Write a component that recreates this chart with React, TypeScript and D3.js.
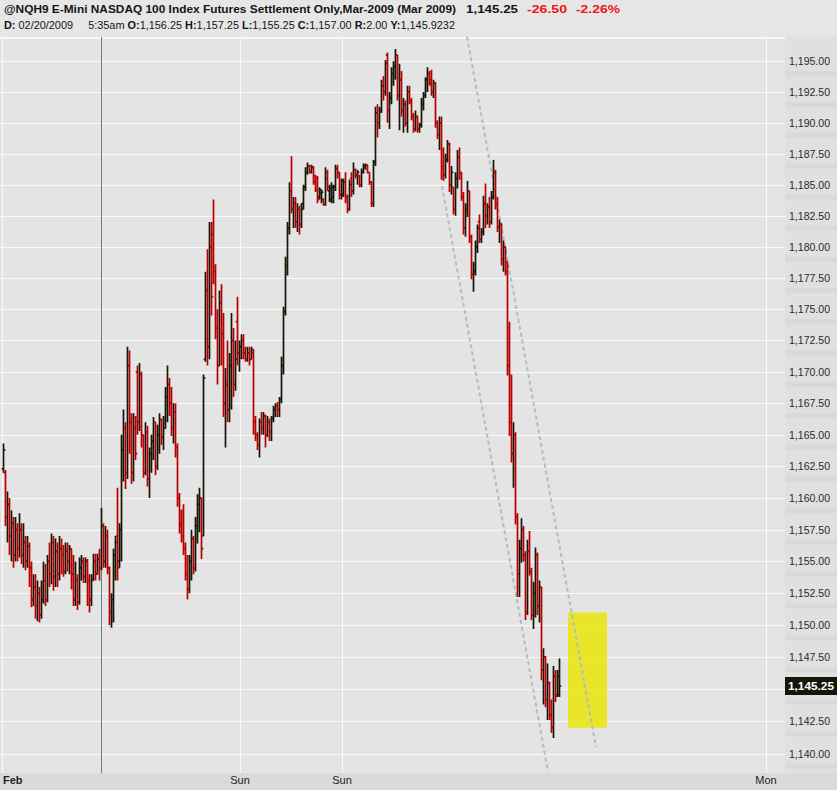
import React from 'react';
import * as d3 from 'd3';

// OHLC bars left to right
const opens = [
  1162.3, 1162.0, 1158.5, 1159.5, 1157.0, 1158.0, 1155.5, 1157.5, 1156.0, 1157.5,
  1155.5, 1156.5, 1155.0, 1156.2, 1154.5, 1152.0, 1153.0, 1151.5, 1152.5, 1150.8,
  1152.0, 1153.5, 1152.0, 1155.0, 1154.0, 1156.5, 1153.8, 1155.8, 1154.0, 1156.0,
  1155.5, 1154.2, 1155.8, 1155.0, 1156.0, 1154.0, 1152.0, 1153.5, 1151.8, 1154.5,
  1155.0, 1153.8, 1155.0, 1153.5, 1152.0, 1153.5, 1155.0, 1154.0, 1155.2, 1154.5,
  1157.8, 1155.0, 1157.0, 1154.5, 1151.0, 1152.0, 1155.5, 1157.0, 1155.0, 1157.5,
  1163.8, 1165.5, 1162.0, 1170.5, 1166.0, 1162.0, 1165.5, 1170.0, 1166.0, 1169.8,
  1165.0, 1162.0, 1165.2, 1161.5, 1163.5, 1164.5, 1166.0, 1162.5, 1165.0, 1166.2,
  1164.8, 1165.5, 1168.0, 1169.0, 1167.5, 1165.5, 1166.8, 1164.0, 1160.0, 1158.0,
  1157.0, 1156.0, 1154.0, 1152.8, 1155.0, 1156.8, 1154.5, 1157.8, 1159.5, 1160.0,
  1157.0, 1171.0, 1176.5, 1172.0, 1180.0, 1181.0, 1178.0, 1173.5, 1170.5, 1175.5,
  1173.0, 1167.5, 1169.0, 1167.0, 1170.5, 1172.5, 1169.0, 1174.0, 1171.5, 1172.0,
  1172.5, 1171.5, 1171.0, 1171.5, 1171.0, 1171.5, 1166.0, 1165.0, 1164.2, 1166.0,
  1165.5, 1166.5, 1165.0, 1166.0, 1165.2, 1166.3, 1167.0, 1167.3, 1167.0, 1167.8,
  1170.5, 1174.8, 1178.5, 1181.5, 1184.5, 1183.0, 1183.5, 1182.0, 1183.0, 1181.8,
  1183.5, 1184.8, 1186.0, 1186.5, 1186.0, 1186.4, 1185.7, 1185.5, 1184.0, 1184.3,
  1183.8, 1183.4, 1186.0, 1184.5, 1183.8, 1184.0, 1184.8, 1186.3, 1186.0, 1184.2,
  1184.2, 1185.2, 1184.0, 1183.0, 1185.5, 1184.5, 1186.2, 1185.8, 1185.7, 1185.0,
  1186.0, 1186.5, 1186.6, 1186.0, 1185.2, 1183.5, 1186.8, 1190.8, 1190.0, 1191.0,
  1193.0, 1192.5, 1195.5, 1191.0, 1192.0, 1194.0, 1194.6, 1195.5, 1192.2, 1193.5,
  1191.0, 1191.5, 1190.0, 1192.5, 1191.8, 1190.5, 1189.5, 1190.5, 1189.5, 1189.8,
  1191.5, 1192.2, 1193.5, 1194.0, 1193.5, 1192.5, 1193.2, 1190.0, 1189.0, 1190.0,
  1186.5, 1185.8, 1187.0, 1188.3, 1185.0, 1184.8, 1183.0, 1185.5, 1187.2, 1186.0,
  1184.0, 1181.5, 1183.0, 1184.5, 1180.8, 1177.8, 1178.0, 1180.0, 1182.0, 1180.6,
  1181.2, 1183.5, 1182.5, 1183.2, 1182.0, 1184.0, 1186.0, 1183.5, 1181.6, 1181.8,
  1179.0, 1180.0, 1178.8, 1170.5, 1166.0, 1163.5, 1165.0, 1158.5, 1154.0, 1156.0,
  1157.5, 1155.5, 1151.0, 1155.8, 1154.2, 1150.8, 1152.5, 1155.5, 1151.5, 1153.0,
  1146.5, 1147.5, 1144.2, 1145.5, 1143.0, 1142.0, 1146.0, 1144.5, 1144.6,
];
const highs = [
  1164.3, 1162.2, 1160.5, 1160.0, 1159.0, 1158.5, 1158.5, 1158.0, 1158.8, 1158.0,
  1158.0, 1157.0, 1157.0, 1156.5, 1155.0, 1154.0, 1154.0, 1153.5, 1153.0, 1153.5,
  1155.0, 1154.8, 1155.5, 1156.5, 1157.2, 1157.0, 1156.8, 1156.5, 1157.0, 1156.8,
  1156.3, 1156.5, 1156.5, 1156.3, 1156.0, 1155.5, 1155.0, 1154.0, 1155.3, 1155.5,
  1155.3, 1155.3, 1155.2, 1154.0, 1154.0, 1155.6, 1155.6, 1155.6, 1156.0, 1159.2,
  1158.0, 1157.8, 1157.5, 1154.6, 1152.5, 1156.0, 1157.0, 1160.8, 1158.0, 1165.0,
  1167.0, 1166.0, 1172.0, 1171.7, 1166.7, 1166.7, 1166.5, 1170.5, 1170.7, 1170.0,
  1165.0, 1166.0, 1165.7, 1164.0, 1165.0, 1166.4, 1166.0, 1165.8, 1166.7, 1166.3,
  1166.5, 1168.8, 1170.5, 1169.5, 1168.8, 1167.5, 1167.5, 1164.3, 1160.4, 1159.1,
  1159.5, 1156.5, 1155.5, 1155.5, 1157.5, 1157.0, 1158.5, 1160.3, 1160.8, 1160.0,
  1169.8, 1178.0, 1179.8, 1182.0, 1182.0, 1183.8, 1178.6, 1175.0, 1176.5, 1177.0,
  1174.7, 1170.3, 1172.5, 1171.5, 1174.7, 1173.5, 1172.5, 1176.0, 1172.5, 1173.0,
  1173.0, 1172.0, 1172.0, 1172.0, 1172.0, 1171.8, 1166.5, 1165.2, 1166.3, 1166.8,
  1166.8, 1166.6, 1166.5, 1166.3, 1166.5, 1167.3, 1167.5, 1167.6, 1168.0, 1171.2,
  1175.2, 1179.2, 1182.0, 1185.2, 1187.3, 1184.0, 1184.0, 1183.5, 1183.3, 1183.5,
  1185.0, 1186.4, 1186.8, 1186.6, 1186.6, 1186.5, 1185.8, 1185.7, 1184.8, 1184.6,
  1183.9, 1186.4, 1186.2, 1185.0, 1185.2, 1185.0, 1186.6, 1186.6, 1186.0, 1185.5,
  1185.5, 1186.0, 1184.2, 1185.4, 1186.0, 1186.8, 1186.3, 1186.2, 1185.8, 1186.3,
  1186.7, 1186.7, 1186.6, 1186.0, 1185.3, 1187.0, 1191.3, 1191.5, 1191.3, 1193.5,
  1193.8, 1195.1, 1195.7, 1192.5, 1194.5, 1195.0, 1196.0, 1195.5, 1194.8, 1194.2,
  1192.0, 1191.8, 1193.0, 1193.0, 1192.0, 1190.8, 1191.0, 1190.6, 1190.0, 1192.0,
  1192.5, 1193.7, 1194.5, 1194.2, 1194.3, 1193.5, 1193.3, 1190.2, 1190.5, 1190.5,
  1188.0, 1187.5, 1188.6, 1188.4, 1186.5, 1184.8, 1186.0, 1187.8, 1188.0, 1186.0,
  1184.4, 1183.5, 1185.3, 1184.5, 1181.0, 1178.8, 1180.5, 1181.8, 1182.6, 1181.5,
  1184.1, 1185.1, 1183.5, 1184.0, 1184.5, 1187.0, 1186.2, 1184.0, 1182.2, 1181.9,
  1180.5, 1180.0, 1178.8, 1174.0, 1169.8, 1166.0, 1165.2, 1158.8, 1156.7, 1158.4,
  1157.8, 1155.8, 1156.7, 1157.4, 1154.5, 1153.4, 1156.1, 1155.7, 1153.5, 1153.0,
  1148.2, 1147.6, 1147.0, 1145.6, 1144.2, 1146.8, 1146.5, 1146.5, 1147.4,
];
const lows = [
  1162.0, 1157.8, 1156.5, 1155.5, 1155.0, 1154.5, 1155.0, 1155.0, 1155.3, 1154.8,
  1154.5, 1154.3, 1154.5, 1153.0, 1151.4, 1151.5, 1150.5, 1150.3, 1150.2, 1150.5,
  1151.7, 1151.5, 1151.8, 1153.0, 1153.2, 1152.7, 1153.0, 1153.0, 1153.5, 1154.0,
  1153.8, 1154.0, 1154.2, 1154.0, 1152.8, 1151.5, 1151.5, 1151.2, 1151.6, 1153.5,
  1153.3, 1153.3, 1151.5, 1151.0, 1151.5, 1153.5, 1153.5, 1154.0, 1153.5, 1154.3,
  1154.5, 1154.5, 1154.0, 1150.0, 1149.8, 1150.2, 1153.5, 1153.5, 1154.5, 1155.0,
  1161.3, 1160.7, 1161.5, 1163.5, 1161.1, 1161.3, 1163.0, 1165.0, 1165.3, 1164.0,
  1161.6, 1161.8, 1160.9, 1160.0, 1162.0, 1163.0, 1161.8, 1162.2, 1163.5, 1164.2,
  1163.8, 1165.5, 1166.0, 1166.5, 1164.9, 1164.3, 1163.2, 1159.3, 1157.2, 1156.5,
  1155.5, 1153.5, 1152.0, 1152.5, 1153.5, 1154.0, 1154.2, 1156.4, 1157.3, 1155.2,
  1157.0, 1170.8, 1170.5, 1171.0, 1174.5, 1177.0, 1172.6, 1169.0, 1170.5, 1170.5,
  1166.4, 1164.0, 1166.0, 1166.0, 1167.0, 1168.0, 1168.5, 1170.5, 1170.0, 1171.0,
  1171.0, 1170.8, 1170.8, 1170.5, 1171.0, 1165.0, 1164.5, 1163.8, 1163.2, 1165.0,
  1165.0, 1164.0, 1164.8, 1164.5, 1164.5, 1166.0, 1166.4, 1166.4, 1166.4, 1167.5,
  1169.8, 1174.5, 1177.7, 1181.0, 1182.7, 1181.5, 1181.5, 1181.2, 1181.0, 1181.5,
  1183.0, 1184.5, 1185.8, 1185.9, 1185.9, 1185.0, 1184.4, 1183.5, 1183.8, 1183.5,
  1183.3, 1183.3, 1184.5, 1183.6, 1183.5, 1183.5, 1184.5, 1185.5, 1183.8, 1183.8,
  1184.0, 1183.5, 1182.7, 1182.9, 1184.0, 1184.2, 1185.5, 1185.0, 1184.8, 1184.8,
  1185.9, 1186.2, 1185.9, 1185.0, 1183.2, 1183.2, 1186.5, 1188.8, 1189.5, 1190.8,
  1191.8, 1192.2, 1190.0, 1189.5, 1191.5, 1193.0, 1193.5, 1191.8, 1189.4, 1190.5,
  1189.2, 1189.7, 1189.2, 1191.5, 1190.2, 1189.2, 1189.3, 1189.2, 1189.2, 1189.6,
  1191.0, 1192.0, 1192.5, 1193.0, 1192.2, 1192.0, 1189.6, 1188.7, 1187.8, 1185.4,
  1185.3, 1185.5, 1186.8, 1184.4, 1184.2, 1182.6, 1182.5, 1184.7, 1185.4, 1183.7,
  1181.0, 1180.8, 1182.4, 1180.3, 1177.4, 1176.4, 1177.7, 1179.5, 1180.3, 1180.3,
  1180.9, 1181.5, 1181.8, 1181.5, 1181.8, 1183.8, 1183.0, 1181.2, 1180.3, 1178.5,
  1178.0, 1177.7, 1169.7, 1164.9, 1162.8, 1160.8, 1157.9, 1152.2, 1152.2, 1154.9,
  1155.0, 1150.4, 1150.8, 1153.9, 1150.4, 1149.7, 1150.6, 1150.8, 1150.2, 1145.7,
  1143.8, 1143.6, 1142.6, 1142.6, 1141.6, 1141.2, 1144.0, 1144.4, 1144.4,
];
const closes = [
  1163.8, 1158.5, 1159.5, 1157.0, 1158.0, 1155.5, 1157.5, 1156.0, 1157.5, 1155.5,
  1156.5, 1155.0, 1156.2, 1154.5, 1152.0, 1153.0, 1151.5, 1152.5, 1150.8, 1152.0,
  1153.5, 1152.0, 1155.0, 1154.0, 1156.5, 1153.8, 1155.8, 1154.0, 1156.0, 1155.5,
  1154.2, 1155.8, 1155.0, 1156.0, 1154.0, 1152.0, 1153.5, 1151.8, 1154.5, 1155.0,
  1153.8, 1155.0, 1153.5, 1152.0, 1153.5, 1155.0, 1154.0, 1155.2, 1154.5, 1157.8,
  1155.0, 1157.0, 1154.5, 1151.0, 1152.0, 1155.5, 1156.5, 1154.5, 1157.5, 1163.8,
  1165.5, 1162.0, 1170.5, 1166.0, 1162.0, 1165.5, 1163.5, 1166.0, 1169.8, 1165.0,
  1162.0, 1165.2, 1161.5, 1163.5, 1164.5, 1166.0, 1162.5, 1165.0, 1166.2, 1164.8,
  1165.5, 1168.0, 1169.0, 1167.5, 1165.5, 1166.8, 1164.0, 1160.0, 1157.8, 1157.0,
  1156.0, 1154.0, 1152.8, 1155.0, 1156.8, 1154.5, 1157.8, 1159.5, 1160.0, 1156.0,
  1169.5, 1176.5, 1172.0, 1180.0, 1176.0, 1178.0, 1173.5, 1170.5, 1175.5, 1173.0,
  1167.5, 1169.0, 1167.0, 1170.5, 1172.5, 1169.0, 1171.0, 1171.5, 1172.0, 1172.5,
  1171.5, 1171.0, 1171.5, 1171.0, 1171.8, 1166.0, 1165.0, 1164.2, 1166.0, 1165.5,
  1166.5, 1165.0, 1166.0, 1165.2, 1166.3, 1167.0, 1167.3, 1167.0, 1167.8, 1170.5,
  1174.8, 1178.5, 1181.5, 1184.5, 1183.0, 1183.5, 1182.0, 1183.0, 1181.8, 1183.0,
  1184.8, 1186.0, 1186.5, 1186.0, 1186.4, 1185.2, 1184.6, 1183.8, 1184.6, 1184.4,
  1183.4, 1185.5, 1184.8, 1184.7, 1184.8, 1184.8, 1186.3, 1186.0, 1184.2, 1185.3,
  1185.2, 1184.0, 1183.0, 1185.0, 1184.5, 1186.2, 1185.8, 1186.0, 1185.0, 1186.0,
  1186.5, 1186.6, 1186.0, 1185.2, 1183.5, 1186.8, 1190.8, 1190.0, 1191.0, 1193.0,
  1192.5, 1194.8, 1191.0, 1192.0, 1194.0, 1194.6, 1195.5, 1192.2, 1193.5, 1191.0,
  1191.5, 1190.0, 1192.5, 1191.8, 1190.5, 1189.5, 1190.5, 1189.5, 1189.8, 1191.5,
  1192.2, 1193.5, 1194.0, 1193.2, 1192.5, 1193.2, 1190.0, 1189.0, 1190.0, 1186.5,
  1185.8, 1187.0, 1188.3, 1185.0, 1186.0, 1183.0, 1185.5, 1187.2, 1186.0, 1184.0,
  1181.5, 1183.0, 1184.5, 1180.8, 1177.8, 1178.0, 1180.0, 1181.5, 1180.6, 1181.2,
  1183.5, 1182.5, 1183.2, 1182.0, 1184.0, 1186.0, 1183.5, 1181.6, 1181.8, 1179.0,
  1180.0, 1178.0, 1170.5, 1166.0, 1163.5, 1165.0, 1158.5, 1154.0, 1156.0, 1157.5,
  1155.5, 1151.0, 1155.8, 1154.2, 1150.8, 1152.5, 1155.5, 1151.5, 1153.0, 1146.5,
  1147.5, 1144.2, 1145.5, 1143.0, 1142.0, 1146.0, 1144.5, 1146.0, 1145.25,
];

const priceTicks = [
  1140, 1142.5, 1145, 1147.5, 1150, 1152.5, 1155, 1157.5, 1160, 1162.5, 1165, 1167.5,
  1170, 1172.5, 1175, 1177.5, 1180, 1182.5, 1185, 1187.5, 1190, 1192.5, 1195,
];
const lastPrice = 1145.25;

// session markers on the time axis, in bar index units
const timeMarks = [
  { label: 'Feb', index: -0.5, bold: true },
  { label: 'Sun', index: 118.5, bold: false },
  { label: 'Sun', index: 169.5, bold: false },
  { label: 'Mon', index: 381.5, bold: false },
];
const cursorIndex = 49;

// hand-drawn channel lines and the highlight box, in bar index / price units
const trendLines = [
  { i0: 232, p0: 1197.0, i1: 296.5, p1: 1140.5 },
  { i0: 219.5, p0: 1184.9, i1: 272.5, p1: 1138.6 },
];
const zoneStart = 282.5;
const zoneEnd = 302;
const zoneTop = 1151.0;
const zoneBottom = 1142.0;

const headerTitle = '@NQH9 E-Mini NASDAQ 100 Index Futures Settlement Only,Mar-2009 (Mar 2009)';
const headerLast = '1,145.25';
const headerChange = '-26.50';
const headerPct = '-2.26%';
const infoRow = [
  { t: 'D:', b: true },
  { t: ' 02/20/2009     5:35am ', b: false },
  { t: 'O:', b: true },
  { t: '1,156.25 ', b: false },
  { t: 'H:', b: true },
  { t: '1,157.25 ', b: false },
  { t: 'L:', b: true },
  { t: '1,155.25 ', b: false },
  { t: 'C:', b: true },
  { t: '1,157.00 ', b: false },
  { t: 'R:', b: true },
  { t: '2.00 ', b: false },
  { t: 'Y:', b: true },
  { t: '1,145.9232', b: false },
];

const W = 837;
const H = 790;
const plotRight = 785;
const plotTop = 37;
const plotBottom = 773;
const font = '"Liberation Sans", Arial, sans-serif';
const upColor = '#161606';
const downColor = '#b80000';

const App: React.FC = () => {
  const x = d3.scaleLinear().domain([0, closes.length - 1]).range([3, 559]);
  const y = d3.scaleLog().domain([1140, 1195]).range([753.5, 61.2]);
  const fmt = d3.format(',.2f');

  let upPath = '';
  let downPath = '';
  closes.forEach((c, i) => {
    const cx = Math.round(x(i)) + 0.5;
    const seg =
      `M${cx},${y(highs[i]).toFixed(1)}V${y(lows[i]).toFixed(1)}` +
      `M${cx - 1.8},${y(opens[i]).toFixed(1)}H${cx}` +
      `M${cx},${y(c).toFixed(1)}H${cx + 1.8}`;
    if (c >= opens[i]) upPath += seg;
    else downPath += seg;
  });

  const yLast = y(lastPrice);
  // the last-price tag hides the tick label it sits on
  const shownTicks = priceTicks.filter((p) => Math.abs(y(p) - yLast) > 12);

  return (
    <svg width={W} height={H} style={{ position: 'absolute', left: 0, top: 0, display: 'block' }}
      fontFamily={font}>
      <rect width={W} height={H} fill="#e4e4e4" />
      {/* header */}
      <rect width={W} height={plotTop} fill="#e6e6e6" />
      <text x={4} y={13} fontSize={11.8} fontWeight="bold" fill="#141414" textLength={452}
        lengthAdjust="spacingAndGlyphs">{headerTitle}</text>
      <text x={466} y={13} fontSize={11.8} fontWeight="bold" fill="#141414" textLength={52}
        lengthAdjust="spacingAndGlyphs">{headerLast}</text>
      <text x={527} y={13} fontSize={11.8} fontWeight="bold" fill="#ee1111" textLength={40}
        lengthAdjust="spacingAndGlyphs">{headerChange}</text>
      <text x={576} y={13} fontSize={11.8} fontWeight="bold" fill="#ee1111" textLength={44}
        lengthAdjust="spacingAndGlyphs">{headerPct}</text>
      <text x={4} y={29} fontSize={10.8} fill="#141414" style={{ whiteSpace: 'pre' }}
        textLength={451} lengthAdjust="spacingAndGlyphs">
        {infoRow.map((p, i) => (
          <tspan key={i} fontWeight={p.b ? 'bold' : 'normal'}>{p.t}</tspan>
        ))}
      </text>
      <line x1={0} x2={plotRight} y1={plotTop + 1} y2={plotTop + 1} stroke="#f7f7f7" strokeWidth={2} />

      {/* right price axis panel */}
      <rect x={plotRight} y={plotTop} width={W - plotRight} height={plotBottom - plotTop} fill="#e0e0e0" />
      {priceTicks.map((p) => (
        <rect key={'s' + p} x={plotRight} y={y(p) + 10} width={W - plotRight} height={5} fill="#d9d9d9" />
      ))}

      {/* grid */}
      {priceTicks.map((p) => (
        <line key={'g' + p} x1={0} x2={plotRight} y1={Math.round(y(p)) + 0.5} y2={Math.round(y(p)) + 0.5}
          stroke="#fafafa" strokeWidth={1.2} />
      ))}
      {timeMarks.map((m, i) => (
        <line key={'v' + i} x1={Math.round(x(m.index)) + 0.5} x2={Math.round(x(m.index)) + 0.5}
          y1={plotTop} y2={plotBottom} stroke="#fafafa" strokeWidth={1.2} />
      ))}

      {/* highlight zone */}
      <rect x={x(zoneStart)} y={y(zoneTop)} width={x(zoneEnd) - x(zoneStart)}
        height={y(zoneBottom) - y(zoneTop)} fill="#e9e51a" fillOpacity={0.92} />

      {/* cursor line */}
      <line x1={Math.round(x(cursorIndex)) + 0.5} x2={Math.round(x(cursorIndex)) + 0.5}
        y1={plotTop} y2={plotBottom} stroke="#5e8585" strokeWidth={1} />

      {/* channel lines */}
      {trendLines.map((t, i) => (
        <line key={'t' + i} x1={x(t.i0)} y1={y(t.p0)} x2={x(t.i1)} y2={y(t.p1)}
          stroke="#a9c2bf" strokeWidth={2} strokeDasharray="4,3" />
      ))}

      {/* bars */}
      <path d={upPath} stroke={upColor} strokeWidth={1.7} fill="none" />
      <path d={downPath} stroke={downColor} strokeWidth={1.7} fill="none" />

      {/* price labels */}
      {shownTicks.map((p) => (
        <text key={'l' + p} x={789} y={y(p) + 4} fontSize={10.5} fill="#2a2a2a" textLength={41}
          lengthAdjust="spacingAndGlyphs">{fmt(p)}</text>
      ))}
      <rect x={plotRight} y={yLast - 9} width={W - plotRight} height={18} fill="#15150a" />
      <text x={788} y={yLast + 4.5} fontSize={11.6} fontWeight="bold" fill="#ffffff" textLength={46}
        lengthAdjust="spacingAndGlyphs">{fmt(lastPrice)}</text>

      {/* time axis */}
      <rect x={0} y={plotBottom} width={W} height={H - plotBottom} fill="#dadada" />
      {timeMarks.map((m, i) => (
        <text key={'tl' + i} x={i === 0 ? 3 : x(m.index)} y={784} fontSize={11}
          fontWeight={m.bold ? 'bold' : 'normal'} fill="#222" textAnchor={i === 0 ? 'start' : 'middle'}>
          {m.label}
        </text>
      ))}
    </svg>
  );
};

export default App;
